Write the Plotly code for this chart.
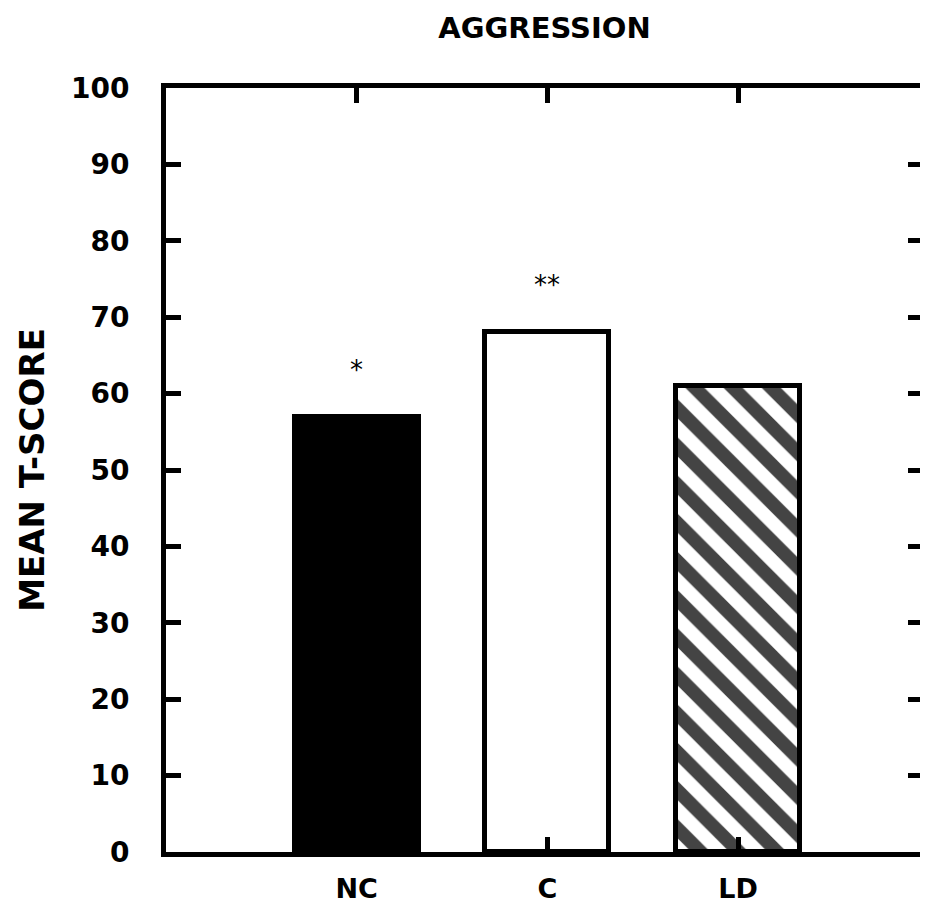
import plotly.graph_objects as go

categories = ["NC", "C", "LD"]
values = [57, 68, 61]
markers = ["*", "**", ""]
fills = ["black", "white", "white"]
patterns = ["", "", "\\"]
yticks = [0, 10, 20, 30, 40, 50, 60, 70, 80, 90, 100]

x_pos = [1, 2, 3]
FONT = "DejaVu Sans"

fig = go.Figure()
fig.add_trace(go.Bar(
    x=x_pos, y=values, width=0.65,
    marker=dict(color=fills, line=dict(color="black", width=5),
                pattern=dict(shape=patterns, fgcolor="black", bgcolor="white",
                             fgopacity=1, size=27, solidity=0.5, fillmode="overlay")),
    showlegend=False, hoverinfo="skip"))

for xp, v, m in zip(x_pos, values, markers):
    if m:
        fig.add_annotation(x=xp, y=v, text=m, showarrow=False, yanchor="bottom",
                           yshift=30, font=dict(family=FONT, size=26, color="black"))

fig.update_layout(
    width=920, height=897,
    margin=dict(l=158, r=0, t=80, b=53),
    paper_bgcolor="white", plot_bgcolor="white",
    title=dict(text="AGGRESSION", x=0.5, xref="paper", y=1 - 20 / 897, yanchor="middle",
               xanchor="center",
               font=dict(family=FONT, size=29, color="black", weight="bold")),
    bargap=0,
)
fig.update_xaxes(
    range=[0, 3.97], tickvals=x_pos, ticktext=categories,
    showgrid=False, zeroline=False,
    showline=True, linecolor="black", linewidth=5, mirror="ticks",
    ticks="inside", ticklen=15, tickwidth=5, tickcolor="black",
    ticklabelstandoff=9,
    tickfont=dict(family=FONT, size=27, color="black", weight="bold"),
)
fig.update_yaxes(
    range=[0, 100], tickvals=yticks,
    showgrid=False, zeroline=False,
    showline=True, linecolor="black", linewidth=5, mirror="ticks",
    ticks="inside", ticklen=15, tickwidth=5, tickcolor="black",
    ticklabelstandoff=26,
    tickfont=dict(family=FONT, size=28, color="black", weight="bold"),
    title=dict(text="MEAN T-SCORE", standoff=18,
               font=dict(family=FONT, size=34, color="black", weight="bold")),
)

fig.write_html("out.html")
